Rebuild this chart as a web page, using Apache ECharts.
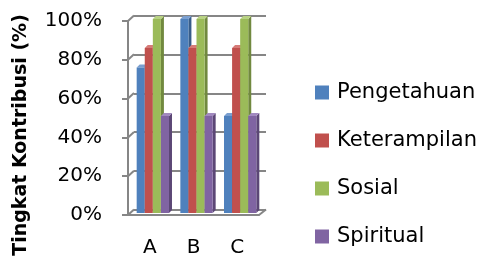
<!DOCTYPE html>
<html>
<head>
<meta charset="utf-8">
<script src="https://cdn.jsdelivr.net/npm/echarts@6/dist/echarts.min.js"></script>
<style>
  html, body { margin: 0; padding: 0; background: #fff; }
  #chart { width: 484px; height: 258px; }
</style>
</head>
<body>
<div id="chart"></div>
<script>
var categories = ['A', 'B', 'C'];
var pengetahuan = [75, 100, 50];
var keterampilan = [85, 85, 85];
var sosial = [100, 100, 100];
var spiritual = [50, 50, 50];
var wallTicks = [0, 20, 40, 60, 80, 100];

var names = ['Pengetahuan', 'Keterampilan', 'Sosial', 'Spiritual'];
var values = [pengetahuan, keterampilan, sosial, spiritual];
// front, side, top
var colors = [
  ['#4F81BD', '#385D8A', '#7A9FD0'],
  ['#C0504D', '#8C3A38', '#D67B78'],
  ['#9BBB59', '#71893F', '#B8D283'],
  ['#8064A2', '#5C4776', '#A189BF']
];
var gridColor = '#868686';
var font = 'DejaVu Sans';

var myChart = echarts.init(document.getElementById('chart'));

function barItem(idx) {
  return function (params, api) {
    var cat = api.value(0), v = api.value(1);
    var base = api.coord([cat, 0]);
    var tip = api.coord([cat, v]);
    var band = api.size([1, 0])[0];
    var w = band * 0.185;
    var dx = 3, dy = -3;
    var x0 = base[0] - 2 * w + idx * w + 3;
    var x1 = x0 + w;
    var yb = base[1] - 2, yt = tip[1] - 2;
    return {
      type: 'group',
      children: [
        { type: 'polygon', shape: { points: [[x1, yb], [x1 + dx, yb + dy], [x1 + dx, yt + dy], [x1, yt]] }, style: { fill: colors[idx][1] } },
        { type: 'polygon', shape: { points: [[x0, yt], [x1, yt], [x1 + dx, yt + dy], [x0 + dx, yt + dy]] }, style: { fill: colors[idx][2] } },
        { type: 'rect', shape: { x: x0, y: yt, width: w, height: yb - yt }, style: { fill: colors[idx][0] } }
      ]
    };
  };
}

var series = [];
// side wall connectors
series.push({
  type: 'custom',
  xAxisIndex: 0, yAxisIndex: 0,
  silent: true,
  data: wallTicks.map(function (t) { return [0, t]; }),
  renderItem: function (params, api) {
    var x = params.coordSys.x;
    var y = api.coord([0, api.value(1)])[1];
    return { type: 'line', shape: { x1: x, y1: y, x2: x + 6, y2: y - 5.5 }, style: { stroke: gridColor, lineWidth: 2 } };
  }
});
// floor right edge
series.push({
  type: 'custom',
  xAxisIndex: 0, yAxisIndex: 0,
  silent: true,
  data: [[2, 0]],
  renderItem: function (params, api) {
    var x = params.coordSys.x + params.coordSys.width;
    var y = api.coord([0, 0])[1];
    return { type: 'line', shape: { x1: x, y1: y, x2: x + 7, y2: y - 5.5 }, style: { stroke: gridColor, lineWidth: 2 } };
  }
});
names.forEach(function (n, i) {
  series.push({
    name: n,
    type: 'custom',
    xAxisIndex: 0, yAxisIndex: 0,
    itemStyle: { color: colors[i][0] },
    data: values[i].map(function (v, j) { return [j, v]; }),
    renderItem: barItem(i)
  });
});

var option = {
  animation: false,
  backgroundColor: '#fff',
  graphic: [{
    type: 'text',
    x: 21,
    y: 135,
    rotation: Math.PI / 2,
    style: {
      text: 'Tingkat Kontribusi (%)',
      fontFamily: font,
      fontSize: 19,
      fontWeight: 'bold',
      fill: '#000',
      align: 'center',
      verticalAlign: 'middle'
    }
  }],
  legend: {
    orient: 'vertical',
    left: 310,
    top: 77,
    itemWidth: 14,
    itemHeight: 14,
    itemGap: 27,
    icon: 'rect',
    textStyle: { fontFamily: font, fontSize: 21, color: '#000', padding: [0, 0, 0, 3] },
    data: names
  },
  grid: [
    { left: 128, right: 225, top: 21, bottom: 42.5 },
    { left: 134, right: 218, top: 15.5, bottom: 48 }
  ],
  xAxis: [
    {
      type: 'category',
      gridIndex: 0,
      data: categories,
      axisLine: { lineStyle: { color: gridColor, width: 2 } },
      axisTick: { show: false },
      axisLabel: { fontFamily: font, fontSize: 20, color: '#000', margin: 23 }
    },
    { type: 'category', gridIndex: 1, data: categories, show: false }
  ],
  yAxis: [
    {
      type: 'value',
      gridIndex: 0,
      min: 0, max: 100, interval: 20,
      axisLine: { show: true, lineStyle: { color: gridColor, width: 2 } },
      axisTick: { show: true, length: 6, lineStyle: { color: gridColor, width: 2 } },
      splitLine: { show: false },
      axisLabel: { fontFamily: font, fontSize: 20, color: '#000', margin: 26, padding: [6, 0, 0, 0], formatter: '{value}%' }
    },
    {
      type: 'value',
      gridIndex: 1,
      min: 0, max: 100, interval: 20,
      axisLine: { show: false },
      axisTick: { show: false },
      axisLabel: { show: false },
      splitLine: { show: true, lineStyle: { color: gridColor, width: 2 } }
    }
  ],
  series: series
};

myChart.setOption(option);
window.addEventListener('resize', function () { myChart.resize(); });
</script>
</body>
</html>
